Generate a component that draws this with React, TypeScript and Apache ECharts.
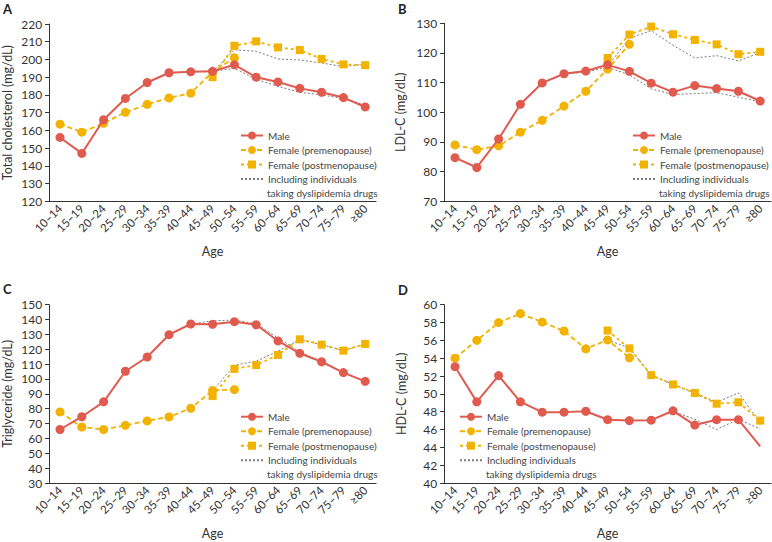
import React, { useEffect, useRef } from 'react';
import * as echarts from 'echarts';

// ---------- data ----------
const ages = ['10–14', '15–19', '20–24', '25–29', '30–34', '35–39', '40–44', '45–49', '50–54', '55–59', '60–64', '65–69', '70–74', '75–79', '≥80'];

// A: total cholesterol
const tcMale = [156, 147, 166, 178, 187, 192.5, 193, 193.3, 197, 190, 187.3, 183.7, 181.5, 178.5, 173.2];
const tcPre = [163.5, 159, 164, 170.2, 174.7, 178.3, 181, 193, 201, null, null, null, null, null, null];
const tcPost = [null, null, null, null, null, null, null, 190, 207.7, 210.2, 206.8, 205.3, 200.3, 197.2, 196.8];
const tcMaleDrug = [null, null, null, null, null, null, null, 193.3, 195, 188.8, 184.8, 181.5, 180, 178, 174.3];
const tcPostDrug = [null, null, null, null, null, null, null, 193, 205.5, 204.6, 200.3, 199.7, 198, 196, 197.3];

// B: LDL-C
const ldlMale = [84.7, 81.4, 91, 102.7, 109.9, 113, 113.9, 116, 113.8, 109.8, 106.8, 109, 108, 107.1, 103.8];
const ldlPre = [89, 87.4, 88.7, 93.3, 97.3, 102.1, 107.1, 114.6, 122.9, null, null, null, null, null, null];
const ldlPost = [null, null, null, null, null, null, null, 118.3, 126.2, 128.9, 126.3, 124.4, 122.9, 119.6, 120.4];
const ldlMaleDrug = [null, null, null, null, 109.9, 112.9, 113.5, 115.2, 112.6, 107.9, 106, 106.3, 106.6, 105.1, 103.5];
const ldlPostDrug = [null, null, null, null, null, null, null, 115.5, 125, 127.5, 122.6, 118.3, 119.1, 117.3, 120.1];

// C: triglyceride
const tgMale = [66, 74.6, 84.6, 105.2, 114.8, 129.8, 137, 136.8, 138.6, 136.5, 125.6, 117.3, 111.6, 104.3, 98.4];
const tgPre = [77.8, 67.7, 66, 68.8, 71.8, 74.5, 80.3, 92.3, 92.9, null, null, null, null, null, null];
const tgPost = [null, null, null, null, null, null, null, 88.5, 106.8, 109.4, 116.2, 126.7, 123.1, 119.1, 123.6];
const tgMaleDrug = [null, null, null, null, null, null, 137, 139.2, 139.6, 137.2, 127.6, 118.3, 111.6, 104.3, 98.4];
const tgPostDrug = [null, null, null, null, null, null, null, 92, 109.2, 112, 118.7, 126.5, 123.1, 119.1, 123.6];

// D: HDL-C
const hdlMale = [53.05, 49.1, 52.05, 49.1, 47.95, 47.95, 48.05, 47.1, 47, 47.05, 48.1, 46.5, 47.1, 47.1, 44.1];
const hdlPre = [54, 56, 58, 59, 58.05, 57.05, 55.05, 56.05, 54.05, null, null, null, null, null, null];
const hdlPost = [null, null, null, null, null, null, null, 57.1, 55.1, 52.1, 51.05, 50.1, 48.9, 49.05, 47];
const hdlMaleDrug = [null, null, null, null, null, null, null, null, 47, 47.05, 48.05, 47.15, 46, 47.15, 46.05];
const hdlPostDrug = [null, null, null, null, null, null, null, 56.05, 55.15, 52.1, 51.05, 50.1, 49.05, 50.1, 46.8];

const yTitles = ['Total cholesterol (mg/dL)', 'LDL-C (mg/dL)', 'Triglyceride (mg/dL)', 'HDL-C (mg/dL)'];
const yMins = [120, 70, 30, 40];
const yMaxs = [220, 130, 150, 60];
const yIntervals = [10, 10, 10, 2];
const letters = ['A', 'B', 'C', 'D'];

const MALE = 'Male';
const PRE = 'Female (premenopause)';
const POST = 'Female (postmenopause)';
const DRUG = 'Including individuals taking dyslipidemia drugs';
const DRUG_LINE1 = 'Including individuals';
const DRUG_LINE2 = 'taking dyslipidemia drugs';

// ---------- styling / layout ----------
const RED = '#E05A4E';
const YEL = '#F2B200';
const GREY = '#7a7a7a';
const AXIS = '#333333';
const FONT = 'Lato, "Noto Sans", sans-serif';
const LEGEND_FS = 10;
const ROW = 14.5;

const grids = [
  { left: 49.1, top: 24, width: 327, height: 177.3 },
  { left: 444.1, top: 23.3, width: 327, height: 178 },
  { left: 49.1, top: 304.7, width: 327, height: 178.3 },
  { left: 444.1, top: 304.7, width: 327, height: 178.3 },
];
const legendPos = [
  { left: 240, top: 128.5 },
  { left: 632, top: 128.5 },
  { left: 240, top: 409.7 },
  { left: 459, top: 409.7 },
];
const letterPos = [
  { left: 3, top: 2 },
  { left: 398, top: 2 },
  { left: 3, top: 282 },
  { left: 398, top: 283 },
];
const yNameGaps = [35, 37, 35, 36];

const panelData = [
  { male: tcMale, pre: tcPre, post: tcPost, maleDrug: tcMaleDrug, postDrug: tcPostDrug },
  { male: ldlMale, pre: ldlPre, post: ldlPost, maleDrug: ldlMaleDrug, postDrug: ldlPostDrug },
  { male: tgMale, pre: tgPre, post: tgPost, maleDrug: tgMaleDrug, postDrug: tgPostDrug },
  { male: hdlMale, pre: hdlPre, post: hdlPost, maleDrug: hdlMaleDrug, postDrug: hdlPostDrug },
];

function buildOption() {
  const series: any[] = [];
  panelData.forEach((p, i) => {
    const base = { type: 'line', xAxisIndex: i, yAxisIndex: i, connectNulls: false };
    const maleData = p.male.map((v, j) =>
      i === 3 && j === p.male.length - 1 ? { value: v, symbol: 'none' } : v
    );
    series.push(
      { ...base, name: DRUG, data: p.maleDrug, symbol: 'none', z: 1,
        lineStyle: { color: GREY, width: 1, type: [2, 2] }, itemStyle: { color: 'rgba(0,0,0,0)' } },
      { ...base, name: DRUG, data: p.postDrug, symbol: 'none', z: 1,
        lineStyle: { color: GREY, width: 1, type: [2, 2] }, itemStyle: { color: 'rgba(0,0,0,0)' } },
      { ...base, name: POST, data: p.post, symbol: 'rect', symbolSize: 8, z: 2,
        lineStyle: { color: YEL, width: 1.8, type: [3, 3] }, itemStyle: { color: YEL } },
      { ...base, name: PRE, data: p.pre, symbol: 'circle', symbolSize: 9, z: 3,
        lineStyle: { color: YEL, width: 1.8, type: [5, 3] }, itemStyle: { color: YEL } },
      { ...base, name: MALE, data: maleData, symbol: 'circle', symbolSize: 9, z: 4,
        lineStyle: { color: RED, width: 2 }, itemStyle: { color: RED } },
    );
  });

  const secondLines = legendPos.map((l) => ({
    type: 'text',
    x: l.left + 27,
    y: l.top + 7 + ROW * 4 - 0.5,
    style: {
      text: DRUG_LINE2, fontSize: LEGEND_FS, fontFamily: FONT, fill: '#444',
      align: 'left', verticalAlign: 'middle',
    },
  }));

  return {
    animation: false,
    backgroundColor: '#ffffff',
    textStyle: { fontFamily: FONT },
    title: letters.map((t, i) => ({
      text: t, left: letterPos[i].left, top: letterPos[i].top, padding: 0,
      textStyle: { fontSize: 13, fontWeight: 'bold', color: '#222', fontFamily: FONT },
    })),
    grid: grids.map((g) => ({ ...g, containLabel: false, outerBoundsMode: 'none' })),
    legend: legendPos.map((l) => ({
      left: l.left, top: l.top, orient: 'vertical', padding: 0, itemGap: ROW - 14,
      itemWidth: 22, itemHeight: 10, selectedMode: false,
      textStyle: { fontSize: LEGEND_FS, color: '#444', fontFamily: FONT, lineHeight: 14 },
      formatter: (name: string) => (name === DRUG ? DRUG_LINE1 : name),
      data: [MALE, PRE, POST, DRUG],
    })),
    graphic: secondLines,
    xAxis: grids.map((_, i) => ({
      type: 'category', gridIndex: i, data: ages, boundaryGap: true,
      name: 'Age', nameLocation: 'middle', nameGap: 44,
      nameTextStyle: { fontSize: 12.5, color: AXIS, fontFamily: FONT },
      axisLine: { lineStyle: { color: AXIS, width: 1 } },
      axisTick: { alignWithLabel: true, length: 4, lineStyle: { color: AXIS } },
      axisLabel: { rotate: 45, fontSize: 11.5, color: AXIS, margin: 5, interval: 0, fontFamily: FONT },
      splitLine: { show: false },
    })),
    yAxis: grids.map((_, i) => ({
      type: 'value', gridIndex: i, min: yMins[i], max: yMaxs[i], interval: yIntervals[i],
      name: yTitles[i], nameLocation: 'middle', nameGap: yNameGaps[i],
      nameTextStyle: { fontSize: 12.5, color: AXIS, fontFamily: FONT },
      axisLine: { show: true, lineStyle: { color: AXIS, width: 1 } },
      axisTick: { show: true, length: 4, lineStyle: { color: AXIS } },
      axisLabel: { fontSize: 12, color: AXIS, margin: 7, fontFamily: FONT },
      splitLine: { show: false },
    })),
    series,
  };
}

export default function App() {
  const ref = useRef<HTMLDivElement>(null);
  useEffect(() => {
    if (!ref.current) return;
    const chart = echarts.init(ref.current, undefined, { renderer: 'svg' });
    chart.setOption(buildOption() as any);
    return () => chart.dispose();
  }, []);
  return (
    <div
      ref={ref}
      style={{ position: 'fixed', left: 0, top: 0, width: 772, height: 542, background: '#fff' }}
    />
  );
}
